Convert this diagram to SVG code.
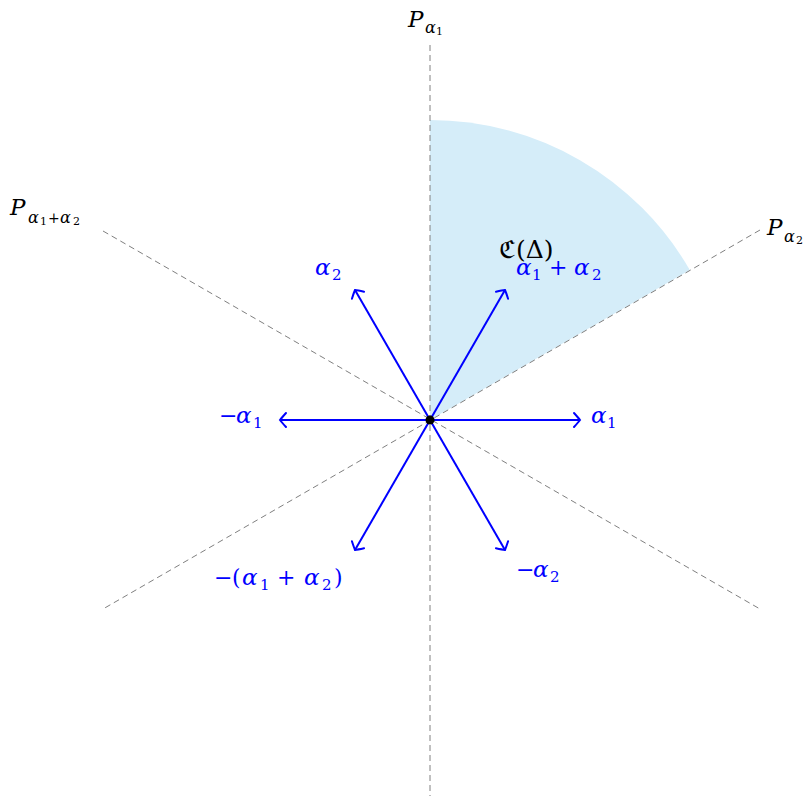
<svg xmlns="http://www.w3.org/2000/svg" width="807" height="796" viewBox="0 0 807 796">
<style>
.dash{stroke:#808080;stroke-width:1;stroke-dasharray:6 4;fill:none}
.arr{stroke:#0000ff;stroke-width:2;fill:none;marker-end:url(#to)}
text{font-family:"DejaVu Serif","Liberation Serif",serif;font-size:22px}
.it{font-style:italic;font-size:23px}
.up{font-style:normal;font-size:22px}
.s{font-style:normal;font-size:15px}
.si{font-style:italic;font-size:16px}
.ss{font-style:normal;font-size:11px}
.ps{font-style:normal;font-size:14px}
.blue{fill:#0000ff}
.cf{font-style:normal;font-size:25px}
</style>
<defs>
<marker id="to" markerUnits="userSpaceOnUse" orient="auto" markerWidth="20" markerHeight="20" viewBox="-10 -10 20 20" refX="0" refY="0" overflow="visible">
<path d="M-6,-7 Q-1.5,-2 0,0 Q-1.5,2 -6,7" fill="none" stroke="#0000ff" stroke-width="2" stroke-linecap="round"/>
</marker>
</defs>
<g id="chamber">
<path d="M430,420 L430,120 A300,300 0 0 1 689.8,270 Z" fill="#d5edf9"/>
</g>
<g id="planes">
<line class="dash" x1="430" y1="45" x2="430" y2="796"/>
<line class="dash" x1="760" y1="230" x2="103" y2="609"/>
<line class="dash" x1="103" y1="231" x2="760" y2="609"/>
</g>
<g id="connectors">
<line class="arr" x1="430" y1="420" x2="580" y2="420"/>
<line class="arr" x1="430" y1="420" x2="280" y2="420"/>
<line class="arr" x1="430" y1="420" x2="355" y2="290"/>
<line class="arr" x1="430" y1="420" x2="505" y2="290"/>
<line class="arr" x1="430" y1="420" x2="505" y2="550"/>
<line class="arr" x1="430" y1="420" x2="355" y2="550"/>
</g>
<g id="origin"><circle cx="430" cy="420" r="4.5" fill="#000"/></g>
<g id="label-P-a1"><text><tspan class="it" x="408" y="27">P</tspan><tspan class="si" x="425" y="33">α</tspan><tspan class="ss" x="436" y="35">1</tspan></text></g>
<g id="label-P-a1a2"><text><tspan class="it" x="10" y="215">P</tspan><tspan class="si" x="28" y="223">α</tspan><tspan class="ss" x="40" y="225">1</tspan><tspan class="ps" x="48" y="223">+</tspan><tspan class="si" x="60" y="223">α</tspan><tspan class="ss" x="73" y="225">2</tspan></text></g>
<g id="label-P-a2"><text><tspan class="it" x="767" y="235">P</tspan><tspan class="si" x="784" y="242">α</tspan><tspan class="ss" x="796" y="244">2</tspan></text></g>
<g id="label-C"><text><tspan class="cf" x="499" y="258">ℭ</tspan><tspan class="cf" x="516" y="258">(Δ)</tspan></text></g>
<g id="label-a2"><text class="blue"><tspan class="it" x="315" y="275">α</tspan><tspan class="s" x="332" y="280">2</tspan></text></g>
<g id="label-a1a2"><text class="blue"><tspan class="it" x="516" y="275">α</tspan><tspan class="s" x="532" y="280">1</tspan><tspan class="up" x="549" y="275">+</tspan><tspan class="it" x="574" y="275">α</tspan><tspan class="s" x="592" y="280">2</tspan></text></g>
<g id="label-ma1"><text class="blue"><tspan class="up" x="219" y="423">−</tspan><tspan class="it" x="236" y="423">α</tspan><tspan class="s" x="253" y="428">1</tspan></text></g>
<g id="label-a1"><text class="blue"><tspan class="it" x="591" y="423">α</tspan><tspan class="s" x="607" y="428">1</tspan></text></g>
<g id="label-ma1a2"><text class="blue"><tspan class="up" x="214" y="585">−</tspan><tspan class="up" x="232" y="585">(</tspan><tspan class="it" x="242" y="585">α</tspan><tspan class="s" x="260" y="590">1</tspan><tspan class="up" x="277" y="585">+</tspan><tspan class="it" x="304" y="585">α</tspan><tspan class="s" x="322" y="590">2</tspan><tspan class="up" x="334" y="585">)</tspan></text></g>
<g id="label-ma2"><text class="blue"><tspan class="up" x="516" y="577">−</tspan><tspan class="it" x="533" y="577">α</tspan><tspan class="s" x="550" y="582">2</tspan></text></g>
</svg>
